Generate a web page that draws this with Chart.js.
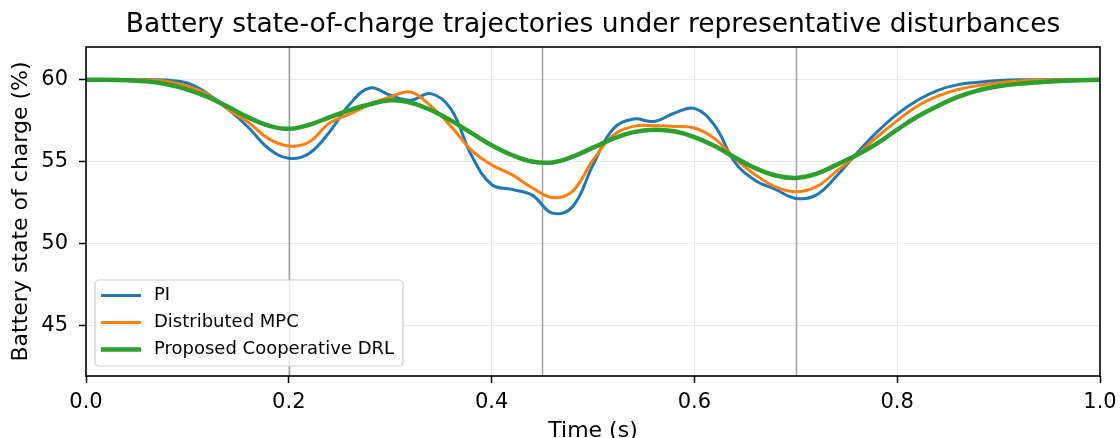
<!DOCTYPE html>
<html>
<head>
<meta charset="utf-8">
<script src="https://cdn.jsdelivr.net/npm/chart.js@4.4.1/dist/chart.umd.min.js"></script>
<style>
    body { margin: 0; background: #ffffff; }
    #wrap { width: 1120px; height: 438px; }
</style>
</head>
<body>
<div id="wrap"><canvas id="socChart" width="1120" height="438"></canvas></div>
<script>
// time axis (s)
var times = [0.00, 0.02, 0.04, 0.06, 0.08, 0.10, 0.12, 0.14, 0.16, 0.18,
             0.20, 0.22, 0.24, 0.26, 0.28, 0.30, 0.32, 0.34, 0.36, 0.38,
             0.40, 0.42, 0.44, 0.46, 0.48, 0.50, 0.52, 0.54, 0.56, 0.58,
             0.60, 0.62, 0.64, 0.66, 0.68, 0.70, 0.72, 0.74, 0.76, 0.78,
             0.80, 0.82, 0.84, 0.86, 0.88, 0.90, 0.92, 0.94, 0.96, 0.98, 1.00];

// state of charge (%) for each controller
var socPI = [60, 60, 60, 60, 59.98, 59.8, 59.15, 58.2, 57.1, 55.8,
             55.2, 55.5, 56.8, 58.5, 59.5, 59.05, 58.75, 59.15, 58.2, 55.4,
             53.6, 53.3, 52.95, 51.85, 52.25, 54.8, 57.0, 57.6, 57.45, 57.95,
             58.25, 57.2, 54.95, 53.85, 53.3, 52.75, 52.95, 54.1, 55.5, 56.8,
             57.9, 58.75, 59.35, 59.7, 59.85, 59.95, 60, 60, 60, 60, 60];
var socMPC = [60, 60, 60, 59.98, 59.9, 59.6, 59.1, 58.2, 57.4, 56.4,
              55.95, 56.2, 57.35, 57.9, 58.5, 58.95, 59.25, 58.4, 57.15, 55.7,
              54.8, 54.2, 53.4, 52.8, 53.2, 55.1, 56.6, 57.15, 57.2, 57.15,
              57.05, 56.4, 55.2, 54.2, 53.45, 53.15, 53.45, 54.4, 55.4, 56.5,
              57.5, 58.4, 59.0, 59.4, 59.65, 59.82, 59.92, 59.97, 60, 60, 60];
var socDRL = [60, 60, 59.97, 59.9, 59.72, 59.4, 58.95, 58.35, 57.7, 57.2,
              57.0, 57.25, 57.7, 58.15, 58.5, 58.75, 58.6, 58.15, 57.5, 56.75,
              56.0, 55.4, 55.0, 54.95, 55.3, 55.85, 56.4, 56.8, 56.95, 56.85,
              56.5, 55.95, 55.25, 54.6, 54.15, 54.0, 54.25, 54.8, 55.4, 56.1,
              56.95, 57.75, 58.4, 58.95, 59.35, 59.6, 59.75, 59.85, 59.93, 59.97, 60];

// disturbance instants
var eventTimes = [0.2, 0.45, 0.7];

var xTicks = [0, 0.2, 0.4, 0.6, 0.8, 1.0];
var yTicks = [45, 50, 55, 60];

var FONT = 'DejaVu Sans';

function toPoints(vals) {
    return vals.map(function (v, i) { return { x: times[i], y: v }; });
}

// vertical markers, frame and the legend box in the lower left corner
var decorPlugin = {
    id: 'decor',
    beforeDatasetsDraw: function (chart) {
        var ctx = chart.ctx, area = chart.chartArea, xs = chart.scales.x;
        ctx.save();
        ctx.strokeStyle = 'rgba(128,128,128,0.75)';
        ctx.lineWidth = 1.5;
        eventTimes.forEach(function (t) {
            var px = Math.round(xs.getPixelForValue(t)) + 0.5;
            ctx.beginPath();
            ctx.moveTo(px, area.top);
            ctx.lineTo(px, area.bottom);
            ctx.stroke();
        });
        ctx.restore();
    },
    afterDatasetsDraw: function (chart) {
        var ctx = chart.ctx, a = chart.chartArea;
        ctx.save();
        ctx.strokeStyle = '#000';
        ctx.lineWidth = 1.6;
        ctx.strokeRect(a.left, a.top, a.right - a.left, a.bottom - a.top);

        // legend
        var fs = 18;
        ctx.font = fs + 'px "' + FONT + '"';
        var sets = chart.data.datasets;
        var maxW = 0;
        sets.forEach(function (d) { maxW = Math.max(maxW, ctx.measureText(d.label).width); });
        var rowH = 27;
        var boxW = 6 + 40 + 13 + maxW + 9;
        var boxH = 5 + rowH * sets.length;
        var bx = a.left + 9, by = a.bottom - 10 - boxH;
        ctx.beginPath();
        ctx.roundRect(bx, by, boxW, boxH, 4);
        ctx.fillStyle = 'rgba(255,255,255,0.8)';
        ctx.fill();
        ctx.strokeStyle = '#cccccc';
        ctx.lineWidth = 1.2;
        ctx.stroke();
        ctx.textBaseline = 'middle';
        ctx.fillStyle = '#000';
        sets.forEach(function (d, i) {
            var cy = by + 2 + rowH * (i + 0.5);
            ctx.beginPath();
            ctx.strokeStyle = d.borderColor;
            ctx.lineWidth = d.borderWidth;
            ctx.moveTo(bx + 6, cy);
            ctx.lineTo(bx + 46, cy);
            ctx.stroke();
            ctx.fillText(d.label, bx + 59, cy);
        });
        ctx.restore();
    }
};

var ctx = document.getElementById('socChart');
var myChart = new Chart(ctx, {
    type: 'line',
    data: {
        datasets: [{
            label: 'PI',
            data: toPoints(socPI),
            borderColor: '#1f77b4',
            borderWidth: 3,
            order: 2
        }, {
            label: 'Distributed MPC',
            data: toPoints(socMPC),
            borderColor: '#ff7f0e',
            borderWidth: 3,
            order: 1
        }, {
            label: 'Proposed Cooperative DRL',
            data: toPoints(socDRL),
            borderColor: '#2ca02c',
            borderWidth: 4.5,
            order: 0
        }]
    },
    options: {
        responsive: false,
        devicePixelRatio: 1,
        animation: false,
        layout: { padding: { left: 0, right: 20, top: 0, bottom: 0 } },
        elements: {
            point: { radius: 0 },
            line: { tension: 0.4, fill: false }
        },
        plugins: {
            legend: { display: false },
            tooltip: { enabled: false },
            title: {
                display: true,
                fullSize: false,
                text: 'Battery state-of-charge trajectories under representative disturbances',
                color: '#000',
                font: { family: FONT, size: 26.5, weight: 'normal' },
                padding: { top: 9.4, bottom: 5.8 }
            }
        },
        scales: {
            x: {
                type: 'linear',
                min: 0,
                max: 1,
                afterBuildTicks: function (scale) {
                    scale.ticks = xTicks.map(function (v) { return { value: v }; });
                },
                afterFit: function (scale) {
                    scale.height = 62;
                    scale.paddingLeft = 0;
                    scale.paddingRight = 0;
                },
                border: { display: false },
                grid: { color: '#e8e8e8', lineWidth: 1, tickLength: 7, tickColor: '#000', tickWidth: 1.5 },
                ticks: {
                    color: '#000',
                    font: { family: FONT, size: 21 },
                    padding: 7,
                    maxRotation: 0,
                    autoSkip: false,
                    callback: function (v) { return Number(v).toFixed(1); }
                },
                title: {
                    display: true,
                    text: 'Time (s)',
                    color: '#000',
                    font: { family: FONT, size: 22 },
                    padding: { top: 0, bottom: -6 }
                }
            },
            y: {
                min: 41.9,
                max: 62,
                afterBuildTicks: function (scale) {
                    scale.ticks = yTicks.map(function (v) { return { value: v }; });
                },
                afterFit: function (scale) { scale.width = 86; },
                border: { display: false },
                grid: { color: '#e8e8e8', lineWidth: 1, tickLength: 7, tickColor: '#000', tickWidth: 1.5 },
                ticks: {
                    color: '#000',
                    font: { family: FONT, size: 21 },
                    padding: 11
                },
                title: {
                    display: true,
                    text: 'Battery state of charge (%)',
                    color: '#000',
                    font: { family: FONT, size: 22 },
                    padding: { top: 8, bottom: 0 }
                }
            }
        }
    },
    plugins: [decorPlugin]
});
</script>
</body>
</html>
